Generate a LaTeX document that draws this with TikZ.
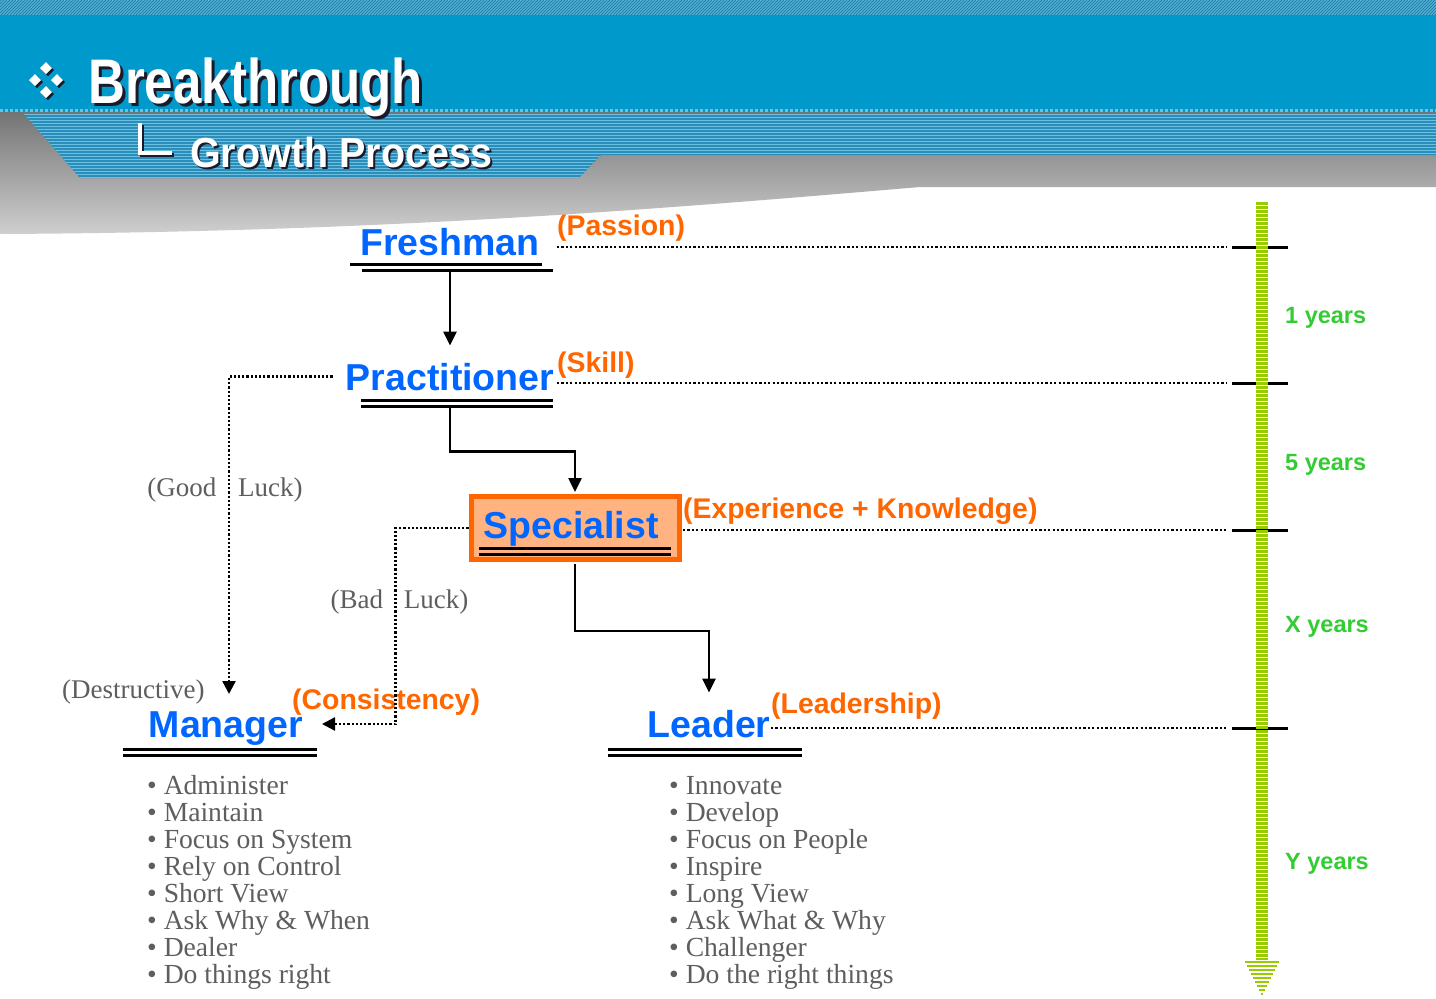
\documentclass[tikz,border=0pt]{standalone}
\usepackage{fontspec}
\setmainfont{Liberation Serif}
\newfontfamily\hsans{Liberation Sans}
\usetikzlibrary{arrows.meta}
\definecolor{band}{HTML}{0099CC}
\definecolor{bandlight}{HTML}{6CC0E0}
\definecolor{banddark}{HTML}{2A8DBA}
\definecolor{hatchbg}{HTML}{5AB8DA}
\definecolor{hatchln}{HTML}{1F7FA8}
\definecolor{graytop}{HTML}{747474}
\definecolor{graybot}{HTML}{CFCFCF}
\definecolor{mainblue}{HTML}{0066FF}
\definecolor{orng}{HTML}{FF6600}
\definecolor{boxfill}{HTML}{FFB380}
\definecolor{yrgreen}{HTML}{33CC33}
\definecolor{bargreen}{HTML}{99CC00}
\definecolor{txtgray}{HTML}{5E5E5E}
\definecolor{shadow}{HTML}{1A1A2A}
\tikzset{
  mainlbl/.style={font=\hsans\bfseries\fontsize{37.5}{40}\selectfont, text=mainblue, inner sep=0pt, anchor=base},
  qual/.style={font=\hsans\bfseries\fontsize{28.4}{30}\selectfont, text=orng, inner sep=0pt, anchor=base west},
  yr/.style={font=\hsans\bfseries\fontsize{23.5}{25}\selectfont, text=yrgreen, inner sep=0pt, anchor=base west},
  note/.style={font=\fontsize{27}{29}\selectfont, text=txtgray, inner sep=0pt, anchor=base},
  itemlist/.style={font=\fontsize{27.6}{26.9}\selectfont, text=txtgray, inner sep=0pt, anchor=base west, align=left},
  ul/.style={line width=3pt},
  arr/.style={line width=2.5pt, -{Triangle[length=14pt,width=13pt]}},
  dotarr/.style={line width=2.3pt, dash pattern=on 2.2pt off 2pt, -{Triangle[length=13pt,width=13pt]}},
  dotl/.style={line width=2.1pt, dash pattern=on 2.2pt off 2.2pt},
  tickln/.style={line width=3pt},
  ttl/.style={inner sep=0pt, anchor=base west},
}
\begin{document}
\begin{tikzpicture}[x=1pt,y=-1pt]
\useasboundingbox (0,0) rectangle (1436,999);
\fill[white] (0,0) rectangle (1436,999);
% grey shaded wedge
\shade[top color=graytop, bottom color=graybot]
  (0,112) -- (1436,112) -- (1436,187) -- (920,187)
  .. controls (650,210) and (380,232) .. (0,234) -- cycle;
% blue band
\fill[band] (0,0) rectangle (1436,112);
\fill[hatchbg] (0,0) rectangle (1436,15);
\begin{scope}
  \clip (0,0) rectangle (1436,15);
  \foreach \i in {-20,-17,...,1440} \draw[hatchln, line width=0.9pt] (\i,15) -- (\i+15,0);
\end{scope}
\draw[bandlight, line width=3pt, dash pattern=on 3pt off 2pt] (0,110.5) -- (1436,110.5);
% striped band
\fill[banddark] (24,114) -- (1436,114) -- (1436,155) -- (601,155) -- (579,178) -- (80,178) -- cycle;
\begin{scope}
  \clip (24,114) -- (1436,114) -- (1436,155) -- (601,155) -- (579,178) -- (80,178) -- cycle;
  \foreach \j in {114.5,117.5,...,180} \draw[bandlight, line width=1.3pt] (0,\j) -- (1436,\j);
\end{scope}
% title bullet
\foreach \dx/\dy in {46/68, 35/80, 57/80, 46/92} {
  \fill[shadow] (\dx+2,\dy-4) -- (\dx+8,\dy+2) -- (\dx+2,\dy+8) -- (\dx-4,\dy+2) -- cycle;
  \fill[white] (\dx,\dy-6) -- (\dx+6,\dy) -- (\dx,\dy+6) -- (\dx-6,\dy) -- cycle;
}
\node[ttl, text=white, font=\hsans\bfseries\fontsize{63}{63}\selectfont] (ttl) at (88,103)
  {\rlap{\raisebox{-3pt}{\hspace*{3pt}\textcolor{shadow}{\scalebox{0.81}[1]{Breakthrough}}}}\scalebox{0.81}[1]{Breakthrough}};
\draw[shadow, line width=4.5pt] (142,125) -- (142,155) -- (174,155);
\draw[white, line width=4.5pt] (140,123) -- (140,153) -- (172,153);
\node[ttl, text=white, font=\hsans\bfseries\fontsize{42}{42}\selectfont] (sub) at (190,167)
  {\rlap{\raisebox{-2pt}{\hspace*{2pt}\textcolor{shadow}{\scalebox{0.94}[1]{Growth Process}}}}\scalebox{0.94}[1]{Growth Process}};

% timeline ticks
\draw[tickln] (1232,247) -- (1288,247);
\draw[tickln] (1232,383) -- (1288,383);
\draw[tickln] (1232,530) -- (1288,530);
\draw[tickln] (1232,728) -- (1288,728);
\coordinate (k1) at (1226,247);
\coordinate (k2) at (1226,383);
\coordinate (k3) at (1226,530);
\coordinate (k4) at (1226,728);
% green bar
\draw[bargreen, line width=12pt, dash pattern=on 2.7pt off 1.3pt] (1262,202) -- (1262,960);
\foreach \k in {0,...,8} {
  \draw[bargreen, line width=2.7pt] ({1262-17+2*\k},{962+4*\k}) -- ({1262+17-2*\k},{962+4*\k});
}
\node[yr] (y1) at (1285,323) {1 years};
\node[yr] (y2) at (1285,470) {5 years};
\node[yr] (y3) at (1285,632) {X years};
\node[yr] (y4) at (1285,869) {Y years};

% specialist box
\node[draw=orng, line width=5pt, fill=boxfill, minimum width=208pt, minimum height=63pt, inner sep=0pt] (spec) at (575,528) {};

% main nodes
\node[mainlbl] (fresh) at (450,255) {Freshman};
\node[mainlbl] (prac) at (450,390) {Practitioner};
\node[mainlbl] (spectxt) at (571,538) {Specialist};
\node[mainlbl] (mgr) at (226,737) {Manager};
\node[mainlbl] (lead) at (709,737) {Leader};

% double underlines
\draw[ul] (350,264) -- (542,264);
\draw[ul] (362,270.5) -- (553,270.5);
\draw[ul] (361,400.5) -- (553,400.5);
\draw[ul] (361,406.5) -- (553,406.5);
\draw[ul] (479,548) -- (671,548);
\draw[ul] (479,554) -- (671,554);
\draw[ul] (123,749) -- (317,749);
\draw[ul] (123,755) -- (317,755);
\draw[ul] (608,749) -- (802,749);
\draw[ul] (608,755) -- (802,755);

% qualities
\node[qual] (passion) at (557,235) {(Passion)};
\node[qual] (skill) at (557,372) {(Skill)};
\node[qual] (exp) at (683,518) {(Experience + Knowledge)};
\node[qual] (leadq) at (771,713) {(Leadership)};
\node[qual] (cons) at (292,709) {(Consistency)};

% guide lines
\draw[dotl] (passion.west |- k1) -- (k1);
\draw[dotl] (skill.west |- k2) -- (k2);
\draw[dotl] (exp.west |- k3) -- (k3);
\draw[dotl] (leadq.west |- k4) -- (k4);

% solid connectors
\draw[arr] ([yshift=-16pt]fresh.south) -- ([yshift=17pt]prac.north);
\draw[arr] ([yshift=-17pt]prac.south) -- ++(0,44) -| ([yshift=2pt]spec.north);
\draw[arr] ([yshift=-2pt]spec.south) -- ++(0,67) -| ([yshift=17pt]lead.north);

% dotted connectors
\coordinate (mgrtop) at (229,694);
\coordinate (mgrin) at (322,724);
\draw[dotarr] ([xshift=-13pt]prac.west) -| (mgrtop);
\draw[dotarr] (spec.west) -| ++(-73,196) -- (mgrin);

% notes
\node[note] (good) at (225,496) {(Good\hspace{22pt}Luck)};
\node[note] (bad) at (399.5,608) {(Bad\hspace{21pt}Luck)};
\node[note, anchor=base west] (destr) at (62,698) {(Destructive)};

% lists (anchor at the baseline of the last line)
\node[itemlist] (mlist) at (147,983) {• Administer\\• Maintain\\• Focus on System\\• Rely on Control\\• Short View\\• Ask Why \& When\\• Dealer\\• Do things right};
\node[itemlist] (llist) at (669,983) {• Innovate\\• Develop\\• Focus on People\\• Inspire\\• Long View\\• Ask What \& Why\\• Challenger\\• Do the right things};
\end{tikzpicture}
\end{document}
